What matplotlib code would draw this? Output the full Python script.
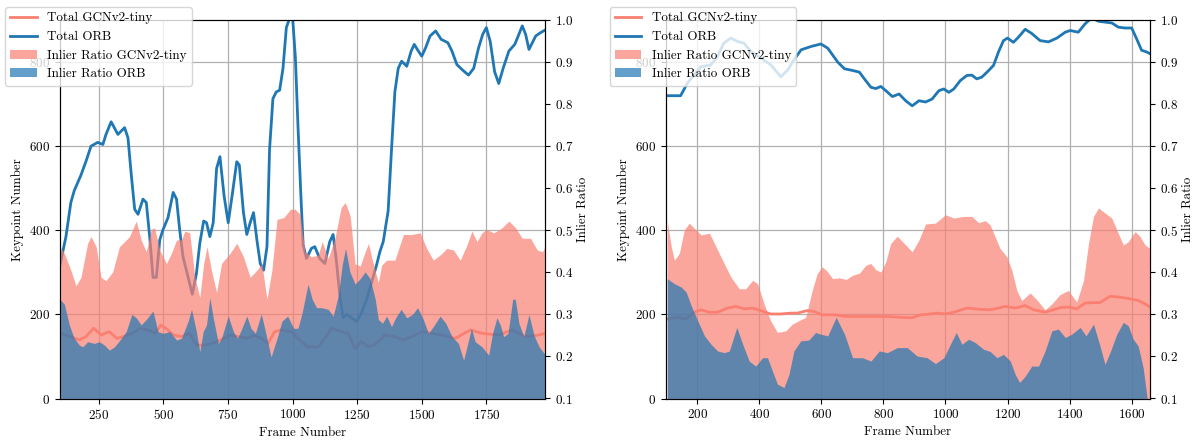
import numpy as np
import matplotlib
matplotlib.use("Agg")
import matplotlib.pyplot as plt

plt.rcParams['font.family'] = ['cmr10', 'DejaVu Serif']
plt.rcParams['mathtext.fontset'] = 'cm'
plt.rcParams['axes.formatter.use_mathtext'] = True
plt.rcParams['font.size'] = 9.4

# --- DATA: left panel (sequence 1) ---
frames_orb_total_l = [100, 123, 142, 155, 181, 200, 220, 246, 266, 278,
                      298, 324, 350, 363, 376, 389, 402, 421, 434, 447,
                      460, 473, 486, 499, 518, 538, 551, 563, 576, 596,
                      612, 628, 641, 656, 667, 680, 693, 706, 719, 735,
                      751, 766, 784, 794, 810, 823, 836, 849, 862, 875,
                      888, 901, 911, 924, 937, 950, 963, 976, 989, 1001,
                      1011, 1021, 1032, 1041, 1054, 1073, 1086, 1105, 1125, 1144,
                      1157, 1170, 1183, 1196, 1209, 1228, 1248, 1267, 1287, 1306,
                      1325, 1338, 1351, 1370, 1383, 1396, 1409, 1422, 1442, 1459,
                      1471, 1487, 1500, 1515, 1532, 1554, 1575, 1601, 1617, 1636,
                      1658, 1681, 1701, 1720, 1736, 1750, 1765, 1782, 1798, 1815,
                      1837, 1860, 1876, 1889, 1902, 1915, 1928, 1941, 1960, 1977]
orb_total_l = [317, 385, 466, 494, 531, 563, 600, 609, 604, 628,
               658, 628, 644, 620, 531, 450, 438, 474, 466, 385,
               288, 288, 377, 402, 430, 490, 474, 402, 337, 288,
               248, 297, 369, 422, 418, 385, 418, 547, 575, 482,
               418, 482, 563, 555, 442, 390, 418, 442, 377, 321,
               305, 361, 592, 713, 729, 733, 785, 882, 905, 899,
               810, 648, 486, 365, 333, 357, 361, 333, 321, 373,
               390, 325, 244, 192, 200, 192, 183, 204, 236, 276,
               317, 349, 373, 446, 592, 729, 785, 802, 790, 826,
               842, 826, 814, 834, 862, 874, 854, 846, 826, 794,
               781, 769, 785, 834, 866, 882, 849, 777, 749, 785,
               826, 842, 866, 886, 866, 830, 846, 862, 870, 876]

frames_gcn_total_l = [100, 140, 175, 200, 230, 260, 290, 320, 345, 380,
                      410, 440, 470, 490, 510, 540, 570, 600, 630, 660,
                      690, 720, 760, 790, 820, 853, 879, 905, 931, 957,
                      995, 1034, 1060, 1099, 1125, 1151, 1189, 1215, 1241, 1267,
                      1293, 1319, 1358, 1396, 1429, 1461, 1500, 1539, 1578, 1630,
                      1688, 1733, 1798, 1850, 1902, 1954, 1977]
gcn_total_l = [155, 147, 139, 147, 167, 151, 159, 143, 147, 155,
               167, 163, 155, 175, 167, 151, 147, 155, 127, 127,
               131, 139, 151, 147, 143, 150, 143, 131, 159, 163,
               159, 135, 123, 123, 143, 167, 159, 155, 119, 135,
               123, 128, 151, 147, 139, 147, 159, 155, 151, 143,
               163, 155, 151, 163, 147, 151, 155]

frames_gcn_ratio_l = [100, 117, 142, 162, 181, 207, 220, 240, 259, 278,
                      304, 330, 350, 369, 395, 414, 434, 453, 466, 486,
                      512, 531, 551, 570, 583, 602, 622, 641, 656, 669,
                      686, 706, 725, 758, 784, 810, 836, 862, 881, 901,
                      920, 940, 966, 992, 1010, 1029, 1048, 1073, 1099, 1115,
                      1138, 1164, 1188, 1204, 1223, 1242, 1262, 1281, 1294, 1307,
                      1332, 1345, 1364, 1396, 1429, 1461, 1494, 1519, 1545, 1571,
                      1597, 1623, 1649, 1675, 1694, 1714, 1733, 1750, 1779, 1811,
                      1837, 1863, 1889, 1921, 1947, 1967, 1977]
gcn_ratio_l = [0.461, 0.445, 0.405, 0.368, 0.388, 0.469, 0.485, 0.461, 0.388, 0.380,
               0.401, 0.461, 0.473, 0.485, 0.522, 0.477, 0.449, 0.502, 0.506, 0.453,
               0.421, 0.445, 0.477, 0.477, 0.498, 0.494, 0.388, 0.340, 0.421, 0.461,
               0.405, 0.352, 0.421, 0.445, 0.469, 0.437, 0.388, 0.405, 0.421, 0.336,
               0.405, 0.526, 0.530, 0.550, 0.550, 0.538, 0.449, 0.437, 0.441, 0.473,
               0.433, 0.481, 0.554, 0.566, 0.534, 0.420, 0.415, 0.449, 0.469, 0.433,
               0.376, 0.417, 0.429, 0.429, 0.490, 0.490, 0.494, 0.457, 0.429, 0.441,
               0.457, 0.453, 0.429, 0.465, 0.498, 0.473, 0.494, 0.502, 0.494, 0.506,
               0.522, 0.506, 0.481, 0.481, 0.453, 0.449, 0.461]

frames_orb_ratio_l = [100, 117, 136, 155, 175, 188, 207, 233, 252, 272,
                      291, 311, 337, 356, 378, 395, 414, 434, 460, 479,
                      499, 525, 551, 570, 596, 609, 628, 641, 654, 667,
                      680, 693, 713, 725, 751, 771, 787, 804, 823, 839,
                      856, 879, 895, 917, 940, 959, 981, 1004, 1021, 1037,
                      1060, 1076, 1093, 1112, 1138, 1157, 1177, 1192, 1205, 1222,
                      1242, 1262, 1281, 1300, 1320, 1332, 1348, 1364, 1383, 1399,
                      1420, 1442, 1464, 1484, 1506, 1526, 1549, 1571, 1593, 1617,
                      1642, 1662, 1675, 1692, 1707, 1733, 1759, 1774, 1791, 1804,
                      1817, 1834, 1852, 1862, 1876, 1895, 1915, 1934, 1954, 1977]
orb_ratio_l = [0.336, 0.324, 0.275, 0.243, 0.227, 0.223, 0.235, 0.231, 0.235, 0.227,
               0.215, 0.223, 0.243, 0.259, 0.300, 0.292, 0.275, 0.288, 0.308, 0.259,
               0.255, 0.259, 0.239, 0.243, 0.284, 0.312, 0.259, 0.211, 0.259, 0.275,
               0.340, 0.292, 0.231, 0.243, 0.296, 0.259, 0.243, 0.267, 0.296, 0.267,
               0.255, 0.301, 0.259, 0.199, 0.243, 0.284, 0.296, 0.267, 0.267, 0.304,
               0.372, 0.336, 0.316, 0.316, 0.312, 0.296, 0.344, 0.417, 0.457, 0.401,
               0.372, 0.385, 0.401, 0.385, 0.336, 0.288, 0.279, 0.296, 0.271, 0.292,
               0.312, 0.292, 0.300, 0.316, 0.288, 0.255, 0.275, 0.296, 0.279, 0.247,
               0.231, 0.191, 0.223, 0.267, 0.235, 0.223, 0.203, 0.255, 0.292, 0.275,
               0.247, 0.255, 0.336, 0.336, 0.279, 0.247, 0.300, 0.251, 0.223, 0.205]

# --- DATA: right panel (sequence 2) ---
frames_orb_total_r = [102, 147, 169, 212, 244, 266, 286, 309, 330, 351,
                      373, 405, 438, 470, 492, 512, 535, 567, 599, 621,
                      653, 675, 701, 723, 739, 760, 776, 792, 808, 829,
                      851, 872, 893, 915, 936, 957, 979, 995, 1011, 1027,
                      1048, 1069, 1085, 1101, 1117, 1134, 1155, 1171, 1187, 1200,
                      1219, 1235, 1257, 1278, 1305, 1332, 1359, 1386, 1402, 1428,
                      1450, 1471, 1493, 1514, 1536, 1557, 1578, 1600, 1616, 1632,
                      1648, 1659]
orb_total_r = [720, 720, 750, 789, 793, 813, 845, 857, 849, 845,
               825, 810, 793, 765, 781, 805, 829, 837, 843, 833,
               800, 784, 780, 776, 760, 740, 737, 742, 732, 718,
               724, 708, 696, 708, 705, 712, 732, 736, 728, 736,
               756, 768, 769, 760, 764, 776, 792, 824, 851, 857,
               847, 859, 878, 868, 851, 848, 857, 871, 875, 871,
               891, 905, 897, 895, 893, 883, 881, 881, 855, 828,
               824, 820]

frames_gcn_total_r = [104, 138, 165, 191, 213, 240, 266, 298, 325, 352,
                      379, 405, 437, 470, 502, 523, 555, 576, 603, 643,
                      685, 728, 771, 813, 856, 893, 920, 952, 973, 1000,
                      1027, 1069, 1112, 1144, 1171, 1192, 1225, 1257, 1284, 1321,
                      1348, 1375, 1402, 1423, 1450, 1477, 1498, 1530, 1562, 1595,
                      1621, 1643, 1659]
gcn_total_r = [189, 193, 189, 205, 211, 205, 205, 215, 219, 213,
               215, 209, 201, 201, 203, 203, 209, 207, 199, 199,
               195, 195, 195, 195, 193, 192, 199, 201, 203, 201,
               205, 215, 212, 211, 215, 219, 215, 221, 211, 205,
               211, 217, 217, 213, 227, 228, 228, 243, 241, 237,
               233, 225, 217]

frames_gcn_ratio_r = [104, 117, 127, 143, 159, 175, 191, 213, 240, 261,
                      282, 309, 336, 357, 379, 395, 416, 437, 459, 486,
                      507, 528, 550, 571, 587, 603, 616, 637, 659, 680,
                      701, 723, 744, 760, 776, 792, 808, 824, 845, 867,
                      893, 915, 936, 968, 1000, 1027, 1059, 1085, 1107, 1128,
                      1144, 1155, 1176, 1198, 1214, 1230, 1246, 1273, 1294, 1321,
                      1343, 1369, 1396, 1423, 1445, 1461, 1477, 1493, 1514, 1536,
                      1552, 1573, 1589, 1611, 1627, 1643, 1659]
gcn_ratio_r = [0.521, 0.461, 0.429, 0.445, 0.501, 0.517, 0.505, 0.489, 0.493, 0.461,
               0.429, 0.389, 0.361, 0.361, 0.381, 0.373, 0.325, 0.285, 0.257, 0.261,
               0.277, 0.285, 0.293, 0.357, 0.397, 0.413, 0.405, 0.385, 0.387, 0.383,
               0.393, 0.398, 0.417, 0.421, 0.406, 0.401, 0.425, 0.469, 0.486, 0.469,
               0.449, 0.477, 0.515, 0.517, 0.537, 0.529, 0.533, 0.533, 0.518, 0.523,
               0.513, 0.493, 0.457, 0.437, 0.405, 0.357, 0.333, 0.351, 0.335, 0.311,
               0.325, 0.347, 0.357, 0.329, 0.381, 0.469, 0.533, 0.553, 0.541, 0.529,
               0.501, 0.465, 0.473, 0.497, 0.485, 0.465, 0.457]

frames_orb_ratio_r = [104, 127, 149, 165, 181, 202, 224, 245, 266, 288,
                      304, 328, 347, 368, 389, 411, 427, 443, 459, 480,
                      496, 512, 534, 560, 582, 598, 621, 648, 675, 701,
                      733, 760, 787, 813, 845, 877, 909, 941, 968, 995,
                      1016, 1035, 1053, 1075, 1096, 1123, 1144, 1166, 1187, 1209,
                      1225, 1239, 1257, 1278, 1300, 1321, 1343, 1364, 1386, 1407,
                      1434, 1453, 1477, 1498, 1514, 1532, 1552, 1573, 1589, 1605,
                      1621, 1637, 1650, 1659]
orb_ratio_r = [0.385, 0.373, 0.365, 0.353, 0.321, 0.285, 0.249, 0.229, 0.213, 0.209,
               0.213, 0.269, 0.229, 0.189, 0.177, 0.197, 0.197, 0.165, 0.134, 0.126,
               0.157, 0.213, 0.237, 0.239, 0.257, 0.253, 0.249, 0.293, 0.253, 0.197,
               0.197, 0.189, 0.213, 0.209, 0.221, 0.221, 0.201, 0.197, 0.183, 0.197,
               0.229, 0.257, 0.229, 0.241, 0.233, 0.217, 0.212, 0.197, 0.205, 0.189,
               0.157, 0.138, 0.153, 0.177, 0.177, 0.213, 0.261, 0.265, 0.245, 0.253,
               0.269, 0.249, 0.277, 0.225, 0.181, 0.213, 0.253, 0.281, 0.273, 0.241,
               0.225, 0.173, 0.100, 0.050]

# --- STYLE ---
GCN_COLOR = 'salmon'
ORB_COLOR = '#1f77b4'
W, H = 1194, 440


def draw_panel(fig, rect, orb_t, gcn_t, gcn_r, orb_r, xlim, xticks, legend_anchor):
    ax1 = fig.add_axes(rect)
    ax1.plot(gcn_t[0], gcn_t[1], color=GCN_COLOR, lw=2, label='Total GCNv2-tiny')
    ax1.plot(orb_t[0], orb_t[1], color=ORB_COLOR, lw=2, label='Total ORB')
    ax1.set_xlim(*xlim)
    ax1.set_ylim(0, 900)
    ax1.set_yticks([0, 200, 400, 600, 800])
    ax1.set_xticks(xticks)
    ax1.set_xlabel('Frame Number', labelpad=3)
    ax1.set_ylabel('Keypoint Number')
    ax1.grid(True, color='#b0b0b0', lw=0.9)

    ax2 = ax1.twinx()
    ax2.fill_between(gcn_r[0], 0, gcn_r[1], color=GCN_COLOR, alpha=0.7, lw=0,
                     label='Inlier Ratio GCNv2-tiny')
    ax2.fill_between(orb_r[0], 0, orb_r[1], color=ORB_COLOR, alpha=0.7, lw=0,
                     label='Inlier Ratio ORB')
    ax2.set_ylim(0.1, 1.0)
    ax2.set_yticks(np.round(np.arange(0.1, 1.01, 0.1), 1))
    ax2.set_ylabel('Inlier Ratio', labelpad=3)

    h1, l1 = ax1.get_legend_handles_labels()
    h2, l2 = ax2.get_legend_handles_labels()
    ax2.legend(h1 + h2, l1 + l2, loc='upper left', bbox_to_anchor=legend_anchor,
               borderaxespad=0)
    return ax1, ax2


fig = plt.figure(figsize=(W / 100, H / 100), dpi=100)

draw_panel(fig, [60 / W, 1 - 398.5 / H, 485 / W, 378.5 / H],
           (frames_orb_total_l, orb_total_l), (frames_gcn_total_l, gcn_total_l),
           (frames_gcn_ratio_l, gcn_ratio_l), (frames_orb_ratio_l, orb_ratio_l),
           (100, 1977), [250, 500, 750, 1000, 1250, 1500, 1750], (-0.113, 1.034))

draw_panel(fig, [666 / W, 1 - 398.5 / H, 484 / W, 378.5 / H],
           (frames_orb_total_r, orb_total_r), (frames_gcn_total_r, gcn_total_r),
           (frames_gcn_ratio_r, gcn_ratio_r), (frames_orb_ratio_r, orb_ratio_r),
           (100, 1659), [200, 400, 600, 800, 1000, 1200, 1400, 1600], (-0.116, 1.034))

fig.savefig('out.png', dpi=100)
